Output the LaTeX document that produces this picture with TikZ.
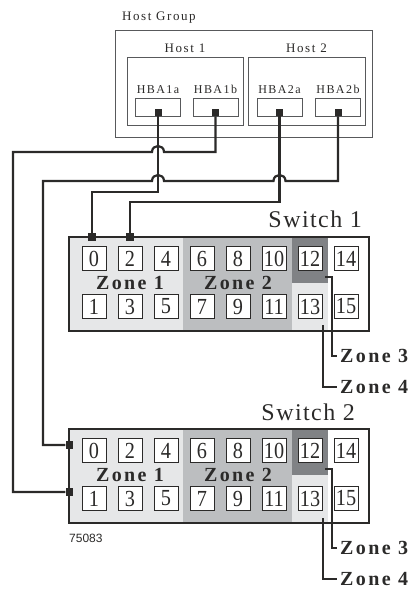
\documentclass[tikz,border=0pt]{standalone}
\usepackage{fontspec}
\setmainfont{Liberation Serif}
\setsansfont{Liberation Sans}
\newfontfamily\trackfont[LetterSpace=12]{Liberation Serif}
\newfontfamily\titlefont[LetterSpace=6]{Liberation Serif}
\newfontfamily\portfont[FakeStretch=0.88]{Liberation Serif}
\usepackage{tikz}
\usetikzlibrary{positioning}
\definecolor{ink}{HTML}{2B2A29}
\definecolor{frame}{HTML}{58595B}
\definecolor{zoneA}{HTML}{E6E7E8}
\definecolor{zoneB}{HTML}{BCBEC0}
\definecolor{zoneC}{HTML}{808285}

\begin{document}
\begin{tikzpicture}[x=1pt, y=-1pt,
	hostbox/.style={draw=frame, line width=0.8pt, rectangle, inner sep=0pt},
	hbabox/.style={draw=frame, fill=white, line width=0.8pt, rectangle, minimum width=45pt, minimum height=18pt, inner sep=0pt},
	hostlabel/.style={text=ink, inner sep=0pt, font=\trackfont\fontsize{13}{13}\selectfont},
	hbalabel/.style={text=ink, inner sep=0pt, font=\trackfont\fontsize{12}{12}\selectfont},
	plug/.style={fill=ink, rectangle, minimum size=7pt, inner sep=0pt},
	switch/.style={draw=ink, line width=2pt, rectangle, minimum width=300pt, minimum height=94pt, inner sep=0pt},
	swlabel/.style={text=ink, inner sep=0pt, font=\titlefont\fontsize{24}{24}\selectfont},
	port/.style={draw=ink, fill=white, line width=0.7pt, rectangle, minimum size=24pt, inner sep=0pt, text=ink, font=\portfont\fontsize{23}{23}\selectfont, node distance=36pt},
	zonelabel/.style={text=ink, inner sep=3pt, font=\trackfont\bfseries\fontsize{20}{20}\selectfont},
	wire/.style={draw=ink, line width=2.2pt},
	callout/.style={draw=ink, line width=1.6pt}
	]
	\useasboundingbox (0,0) rectangle (414,589);

	% host group
	\node[hostbox, minimum width=257pt, minimum height=107pt] (hg) at (243.5,83.5) {};
	\node[hostbox, minimum width=116pt, minimum height=68pt] (host1) at (185,91) {};
	\node[hostbox, minimum width=117pt, minimum height=68pt] (host2) at (306.5,91) {};
	\node[hostlabel, anchor=base west] (hgt) at (122,20) {Host Group};
	\node[hostlabel] (h1t) [above=4pt of host1.north] {Host 1};
	\node[hostlabel] (h2t) [above=4pt of host2.north] {Host 2};

	\node[hbabox] (h1a) at (158,107) {};
	\node[hbabox] (h1b) at (215.5,107) {};
	\node[hbabox] (h2a) at (279.5,107) {};
	\node[hbabox] (h2b) at (338,107) {};
	\node[hbalabel] (l1a) [above=4pt of h1a] {HBA1a};
	\node[hbalabel] (l1b) [above=4pt of h1b] {HBA1b};
	\node[hbalabel] (l2a) [above=4pt of h2a] {HBA2a};
	\node[hbalabel] (l2b) [above=4pt of h2b] {HBA2b};
	\node[plug, anchor=south] (p1a) at (h1a.south) {};
	\node[plug, anchor=south] (p1b) at (h1b.south) {};
	\node[plug, anchor=south] (p2a) at (h2a.south) {};
	\node[plug, anchor=south] (p2b) at (h2b.south) {};

	% switch 1
	\fill[zoneA] (69,237) rectangle (183,331);
	\fill[zoneB] (183,237) rectangle (292,331);
	\fill[zoneC] (292,237) rectangle (328,283);
	\fill[zoneA] (292,283) rectangle (328,331);
	\node[switch] (sw1) at (219,284) {};
	\node[swlabel, anchor=base east] (t1) at (362,227) {Switch 1};
	\node[port] (a0) at (94,258.5) {0};
	\node[port] (a2) [right of=a0] {2};
	\node[port] (a4) [right of=a2] {4};
	\node[port] (a6) [right of=a4] {6};
	\node[port] (a8) [right of=a6] {8};
	\node[port] (a10) [right of=a8] {10};
	\node[port] (a12) [right of=a10] {12};
	\node[port] (a14) [right of=a12] {14};
	\node[port, node distance=48pt] (a1) [below of=a0] {1};
	\node[port] (a3) [right of=a1] {3};
	\node[port] (a5) [right of=a3] {5};
	\node[port] (a7) [right of=a5] {7};
	\node[port] (a9) [right of=a7] {9};
	\node[port] (a11) [right of=a9] {11};
	\node[port] (a13) [right of=a11] {13};
	\node[port] (a15) [right of=a13] {15};
	\node[zonelabel, node distance=24pt] (za1) [below of=a2] {Zone 1};
	\node[zonelabel, node distance=24pt] (za2) [below of=a8] {Zone 2};
	\node[plug, minimum size=8pt] (s1p0) at (92,237) {};
	\node[plug, minimum size=8pt] (s1p2) at (130,237) {};

	\coordinate (c3a) at (325,277);
	\coordinate (c4a) at (323,325);
	\node[zonelabel, anchor=west] (z3a) at (337,356) {Zone 3};
	\node[zonelabel, anchor=west] (z4a) at (337,387) {Zone 4};
	\draw[callout] (c3a) -- ++(7,0) |- (z3a);
	\draw[callout] (c4a) |- (z4a);

	% switch 2
	\fill[zoneA] (69,429) rectangle (183,523);
	\fill[zoneB] (183,429) rectangle (292,523);
	\fill[zoneC] (292,429) rectangle (328,475);
	\fill[zoneA] (292,475) rectangle (328,523);
	\node[switch] (sw2) at (219,476) {};
	\node[swlabel, anchor=base east] (t2) at (355,420) {Switch 2};
	\node[port] (b0) at (94,450.5) {0};
	\node[port] (b2) [right of=b0] {2};
	\node[port] (b4) [right of=b2] {4};
	\node[port] (b6) [right of=b4] {6};
	\node[port] (b8) [right of=b6] {8};
	\node[port] (b10) [right of=b8] {10};
	\node[port] (b12) [right of=b10] {12};
	\node[port] (b14) [right of=b12] {14};
	\node[port, node distance=48pt] (b1) [below of=b0] {1};
	\node[port] (b3) [right of=b1] {3};
	\node[port] (b5) [right of=b3] {5};
	\node[port] (b7) [right of=b5] {7};
	\node[port] (b9) [right of=b7] {9};
	\node[port] (b11) [right of=b9] {11};
	\node[port] (b13) [right of=b11] {13};
	\node[port] (b15) [right of=b13] {15};
	\node[zonelabel, node distance=24pt] (zb1) [below of=b2] {Zone 1};
	\node[zonelabel, node distance=24pt] (zb2) [below of=b8] {Zone 2};
	\node[plug, minimum width=7pt, minimum height=8pt] (s2p0) at (69,445) {};
	\node[plug, minimum width=7pt, minimum height=8pt] (s2p1) at (69,492) {};
	\node[text=ink, inner sep=0pt, anchor=base west, font=\sffamily\fontsize{12}{12}\selectfont] (fig) at (69,542) {75083};

	\coordinate (c3b) at (325,469);
	\coordinate (c4b) at (323,518);
	\node[zonelabel, anchor=west] (z3b) at (337,548) {Zone 3};
	\node[zonelabel, anchor=west] (z4b) at (337,579) {Zone 4};
	\draw[callout] (c3b) -- ++(7,0) |- (z3b);
	\draw[callout] (c4b) |- (z4b);

	% cabling
	\draw[wire] (p1a) |- (s1p0 |- 0,192) -- (s1p0);
	\draw[wire] (p2a) |- (s1p2 |- 0,202) -- (s1p2);
	\draw[wire] (p1b) |- (164,152) .. controls (164,144) and (152,144) .. (152,152) -- (13,152) |- (s2p1);
	\draw[wire] (p2b) |- (285.5,181) .. controls (285.5,173) and (273.5,173) .. (273.5,181) -- (164,181) .. controls (164,173) and (152,173) .. (152,181) -- (43,181) |- (s2p0);
\end{tikzpicture}
\end{document}
